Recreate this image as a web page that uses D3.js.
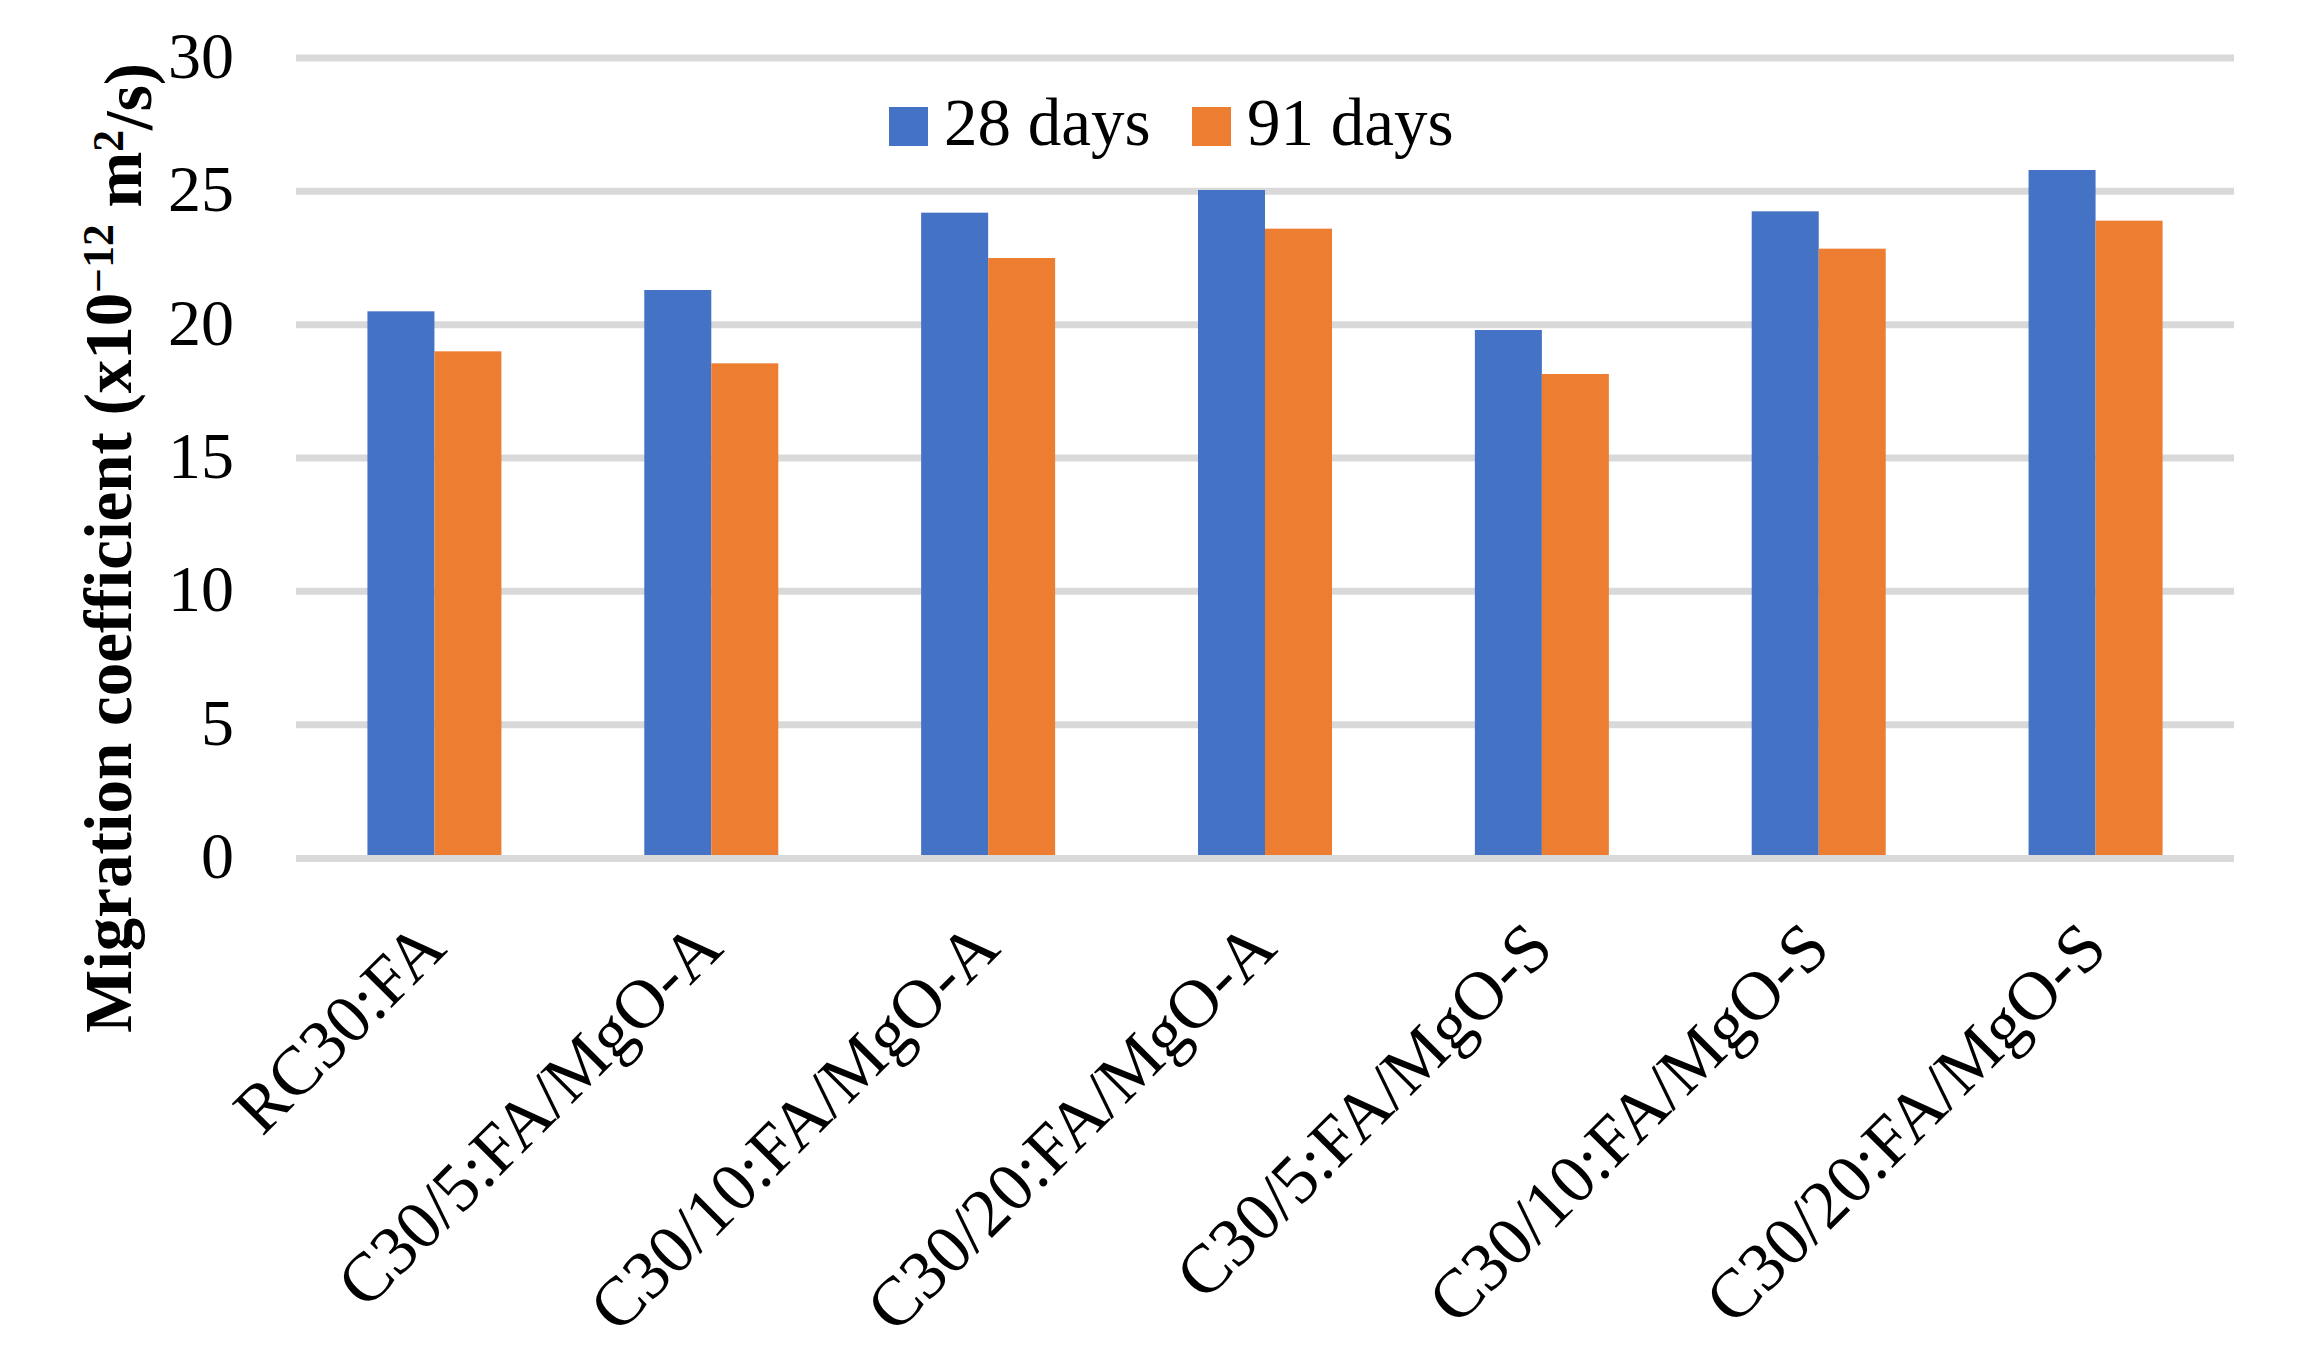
<!DOCTYPE html>
<html>
<head>
<meta charset="utf-8">
<script src="https://cdn.jsdelivr.net/npm/d3@7"></script>
<style>
  body { margin: 0; background: #fff; }
  text { font-family: "Liberation Serif", "DejaVu Serif", serif; fill: #000; }
</style>
</head>
<body>
<svg class="plot" width="2308" height="1357"></svg>
<script>
var categories = ["RC30:FA", "C30/5:FA/MgO-A", "C30/10:FA/MgO-A", "C30/20:FA/MgO-A",
                  "C30/5:FA/MgO-S", "C30/10:FA/MgO-S", "C30/20:FA/MgO-S"];
var series = ["28 days", "91 days"];
var days28 = [20.5, 21.3, 24.2, 25.05, 19.8, 24.25, 25.8];
var days91 = [19.0, 18.55, 22.5, 23.6, 18.15, 22.85, 23.9];
var yTicks = [0, 5, 10, 15, 20, 25, 30];
var colors = ["#4472C4", "#ED7D31"];

var svg = d3.select(".plot"),
    margin = {top: 58, right: 74, bottom: 499, left: 296},
    width = +svg.attr("width") - margin.left - margin.right,
    height = +svg.attr("height") - margin.top - margin.bottom;

svg.append("rect").attr("width", 2308).attr("height", 1357).attr("fill", "#fff");

var data = categories.map(function(c, i) {
  return {cat: c, values: [days28[i], days91[i]]};
});

//scales
var x0 = d3.scaleBand().domain(categories).range([0, width])
    .paddingInner(0.516).paddingOuter(0.258);
var x1 = d3.scaleBand().domain([0, 1]).range([0, x0.bandwidth()]);
var y = d3.scaleLinear().domain([0, 30]).range([height, 0]);
var xc = d3.scaleBand().domain(categories).range([0, width]);

var g = svg.append("g")
    .attr("transform", "translate(" + margin.left + "," + margin.top + ")");

//gridlines
g.selectAll(".grid")
    .data(yTicks.filter(function(d) { return d > 0; }))
    .enter().append("line")
    .attr("x1", 0).attr("x2", width)
    .attr("y1", function(d) { return y(d); })
    .attr("y2", function(d) { return y(d); })
    .attr("stroke", "#d9d9d9")
    .attr("stroke-width", 7);

//bars
var groups = g.selectAll(".group")
    .data(data)
    .enter().append("g")
    .attr("transform", function(d) { return "translate(" + x0(d.cat) + ",0)"; });

groups.selectAll("rect")
    .data(function(d) { return d.values; })
    .enter().append("rect")
    .attr("x", function(d, i) { return x1(i); })
    .attr("y", function(d) { return y(d); })
    .attr("width", x1.bandwidth())
    .attr("height", function(d) { return height - y(d); })
    .attr("fill", function(d, i) { return colors[i]; });

//baseline axis
g.append("line")
    .attr("x1", 0).attr("x2", width)
    .attr("y1", y(0) + 0.5).attr("y2", y(0) + 0.5)
    .attr("stroke", "#d9d9d9")
    .attr("stroke-width", 7);

//y tick labels
g.selectAll(".ytick")
    .data(yTicks)
    .enter().append("text")
    .attr("x", -62)
    .attr("y", function(d) { return y(d) + 20; })
    .attr("text-anchor", "end")
    .style("font-size", "66px")
    .text(function(d) { return d; });

//x labels
g.selectAll(".xlabel")
    .data(categories)
    .enter().append("text")
    .attr("text-anchor", "end")
    .style("font-size", "69px")
    .attr("transform", function(d) {
      var cx = xc(d) + xc.bandwidth() / 2 + 14;
      return "translate(" + cx + "," + (height + 93) + ") rotate(-45)";
    })
    .text(function(d) { return d; });

//y axis title
var title = svg.append("text")
    .attr("transform", "translate(131,548) rotate(-90)")
    .attr("text-anchor", "middle")
    .style("font-size", "67px")
    .style("font-weight", "bold");
title.append("tspan").text("Migration coefficient (x10");
title.append("tspan").attr("dy", "-0.42em").style("font-size", "0.65em").text("\u221212");
title.append("tspan").attr("dy", "0.42em").text(" m");
title.append("tspan").attr("dy", "-0.42em").style("font-size", "0.65em").text("2");
title.append("tspan").attr("dy", "0.42em").text("/s)");

//legend
var legendX = [889, 1192];
var legend = svg.selectAll(".legend")
    .data(series)
    .enter().append("g")
    .attr("transform", function(d, i) { return "translate(" + legendX[i] + ",107)"; });

legend.append("rect")
    .attr("width", 39).attr("height", 39)
    .attr("fill", function(d, i) { return colors[i]; });

legend.append("text")
    .attr("x", 55).attr("y", 38)
    .style("font-size", "67px")
    .text(function(d) { return d; });
</script>
</body>
</html>
